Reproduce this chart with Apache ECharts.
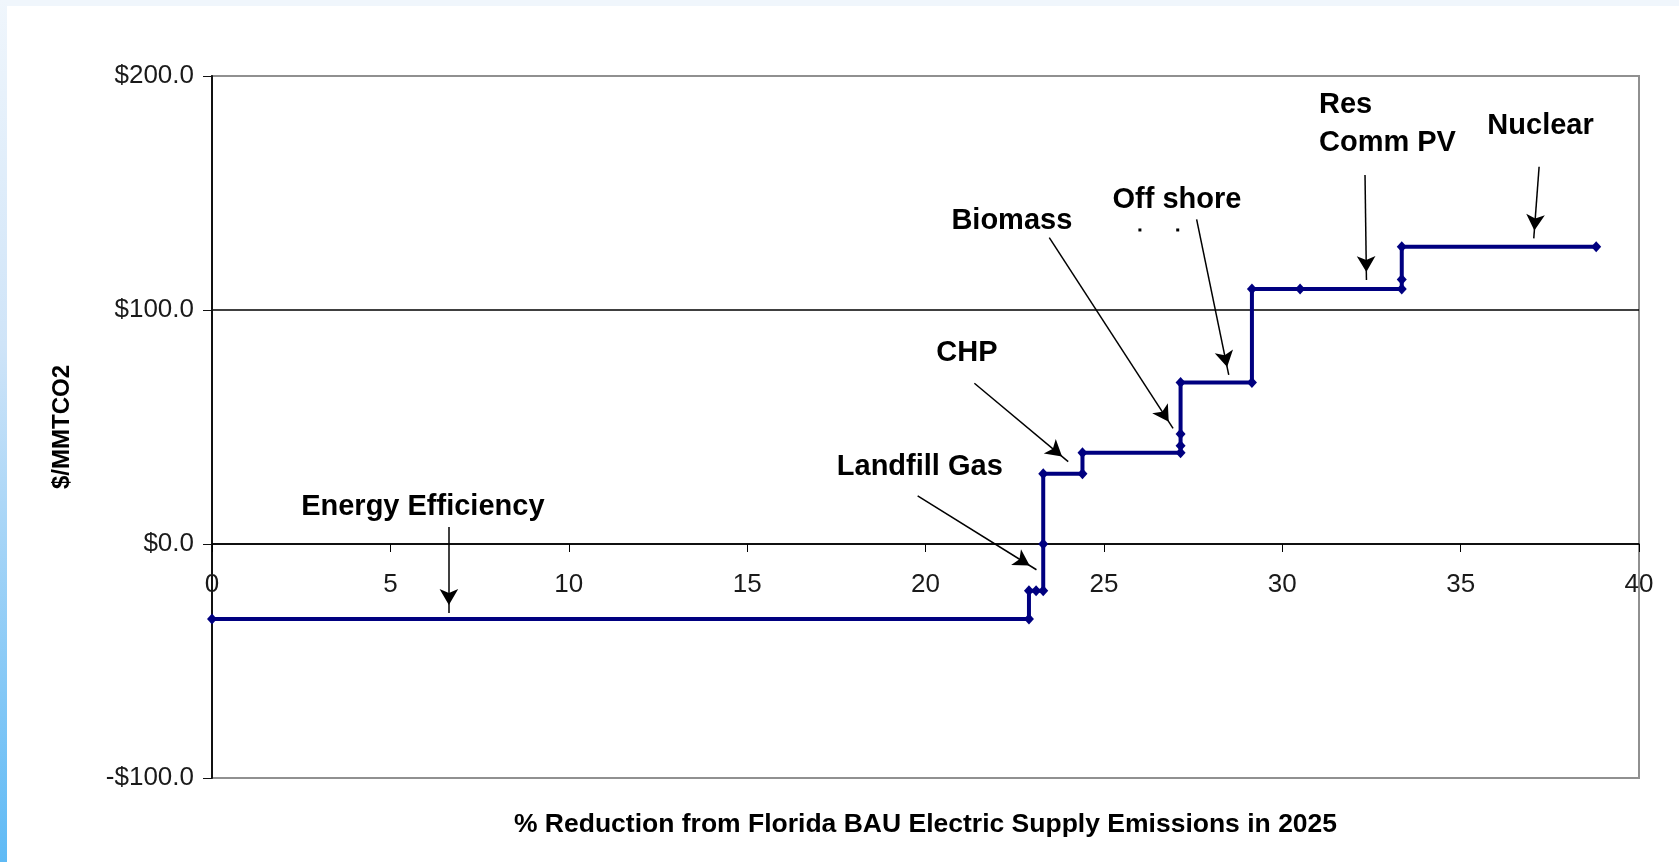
<!DOCTYPE html>
<html>
    <head>
        <title>Florida BAU electric supply abatement curve</title>
        <meta charset="UTF-8">
        <script src="https://cdn.jsdelivr.net/npm/echarts@6/dist/echarts.min.js"></script>
        <style>
            html, body { margin: 0; padding: 0; background: #ffffff; overflow: hidden; }
            .top-strip { position: absolute; left: 0; top: 0; width: 1679px; height: 6px; background: #f0f6fc; }
            .left-strip { position: absolute; left: 0; top: 0; width: 7px; height: 862px;
                          background: linear-gradient(#f0f6fc, #cfe4f8 40%, #5fbaf5); }
            #main { position: absolute; left: 0; top: 0; width: 1679px; height: 862px; }
        </style>
    </head>
    <body>
    <div class="top-strip"></div>
    <div class="left-strip"></div>
    <div id="main"></div>

    <script type="text/javascript">
        // step curve: % reduction vs $/MMTCO2
        var reduction = [0, 22.9, 22.9, 23.1, 23.3, 23.3, 23.3, 24.4, 24.4, 27.15, 27.15, 27.15, 27.15, 29.15, 29.15, 30.5, 33.35, 33.35, 33.35, 38.8];
        var cost      = [-32, -32, -20, -20, -20, 0, 30, 30, 39, 39, 42, 47, 69, 69, 109, 109, 109, 113, 127, 127];

        var xTicks = [0, 40, 5];          // min, max, step
        var yTicks = [-100, 200, 100];

        // callout labels
        var noteText = ['Energy Efficiency', 'Landfill Gas', 'CHP', 'Biomass', 'Off shore', 'Res\nComm PV', 'Nuclear'];
        var noteX    = [5.91, 19.84, 21.16, 22.42, 27.05, 31.03, 37.24];
        var noteY    = [15.6, 32.9, 81.5, 138.2, 146.9, 179.5, 178.6];

        // callout arrows, from -> to
        var arrowFrom = [[6.64, 7.3], [19.78, 20.6], [21.37, 68.7], [23.47, 130.9], [27.6, 138.7], [32.32, 157.7], [37.2, 161.2]];
        var arrowTo   = [[6.64, -29.5], [23.11, -11], [24.0, 35.2], [26.94, 49.4], [28.5, 72.3], [32.36, 112.8], [37.05, 130.6]];

        // two stray dots near "Off shore"
        var dotX = [26.01, 27.07];
        var dotY = [134.2, 134.2];

        var xTitle = '% Reduction from Florida BAU Electric Supply Emissions in 2025';
        var yTitle = '$/MMTCO2';

        var FONT = "'Liberation Sans', Arial, sans-serif";

        var lineData = [];
        for (var i = 0; i < reduction.length; i++) {
            lineData.push([reduction[i], cost[i]]);
        }

        var notes = [];
        for (var i = 0; i < noteText.length; i++) {
            var item = { name: noteText[i], value: [noteX[i], noteY[i]] };
            if (noteText[i].indexOf('\n') > -1) {
                item.label = { align: 'left', lineHeight: 38 };
            }
            notes.push(item);
        }

        var arrows = [];
        for (var i = 0; i < arrowFrom.length; i++) {
            arrows.push([{ coord: arrowFrom[i] }, { coord: arrowTo[i] }]);
        }

        var dots = [];
        for (var i = 0; i < dotX.length; i++) {
            dots.push([dotX[i], dotY[i]]);
        }

        // grid box, and where the $0 line sits inside it
        var gridTop = 76, gridBottom = 84;
        var gridH = 862 - gridTop - gridBottom;
        var zeroOffset = -gridH * (0 - yTicks[0]) / (yTicks[1] - yTicks[0]);

        var myChart = echarts.init(document.getElementById('main'));

        var option = {
            animation: false,
            textStyle: { fontFamily: FONT },
            grid: {
                left: 212, top: gridTop, right: 40, bottom: gridBottom,
                show: true, borderColor: '#909090', borderWidth: 2
            },
            xAxis: {
                type: 'value',
                min: xTicks[0], max: xTicks[1], interval: xTicks[2],
                position: 'bottom',
                offset: zeroOffset,
                axisLine: { onZero: false, lineStyle: { color: '#000', width: 1.5 } },
                axisTick: { length: 8, lineStyle: { color: '#000' } },
                axisLabel: { fontSize: 26, color: '#1a1a1a', margin: 28, fontFamily: FONT },
                splitLine: { show: false }
            },
            yAxis: {
                type: 'value',
                min: yTicks[0], max: yTicks[1], interval: yTicks[2],
                name: yTitle,
                nameLocation: 'middle',
                nameGap: 138,
                nameTextStyle: { fontSize: 24, fontWeight: 'bold', color: '#000', fontFamily: FONT },
                axisLine: { show: true, lineStyle: { color: '#111', width: 2 } },
                axisTick: { show: true, length: 9, lineStyle: { color: '#111' } },
                axisLabel: {
                    fontSize: 26, color: '#1a1a1a', margin: 18, fontFamily: FONT,
                    formatter: function (v) {
                        return (v < 0 ? '-$' : '$') + Math.abs(v).toFixed(1);
                    }
                },
                splitLine: { show: true, lineStyle: { color: ['#909090', '#000', '#000', '#909090'], width: 1.5 } }
            },
            series: [{
                name: 'cost curve',
                type: 'line',
                data: lineData,
                symbol: 'diamond',
                symbolSize: [10, 11],
                showSymbol: true,
                itemStyle: { color: '#000080' },
                lineStyle: { color: '#000080', width: 4 },
                z: 3,
                markLine: {
                    silent: true,
                    symbol: ['none', 'arrow'],
                    symbolSize: [14, 16],
                    symbolOffset: [[0, 0], [0, 8]],
                    label: { show: false },
                    lineStyle: { color: '#000', width: 1.5, type: 'solid' },
                    data: arrows
                }
            }, {
                name: 'notes',
                type: 'scatter',
                data: notes,
                symbolSize: 0,
                silent: true,
                itemStyle: { opacity: 1 },
                label: {
                    show: true,
                    position: [0, 0],
                    align: 'center',
                    verticalAlign: 'middle',
                    formatter: function (p) { return p.name; },
                    fontSize: 29,
                    fontWeight: 'bold',
                    color: '#000',
                    textBorderWidth: 0,
                    fontFamily: FONT
                }
            }, {
                name: 'dots',
                type: 'scatter',
                data: dots,
                symbol: 'rect',
                symbolSize: 3,
                silent: true,
                itemStyle: { color: '#000', opacity: 1 }
            }]
        };

        myChart.setOption(option);

        // x axis title, centred under the plot
        var midX = myChart.convertToPixel({ xAxisIndex: 0 }, (xTicks[0] + xTicks[1]) / 2);
        myChart.setOption({
            graphic: [{
                type: 'text',
                x: midX,
                y: 825,
                style: {
                    text: xTitle,
                    align: 'center',
                    verticalAlign: 'middle',
                    fill: '#000',
                    font: 'bold 26.5px ' + FONT
                }
            }]
        });
    </script>
    </body>
</html>
